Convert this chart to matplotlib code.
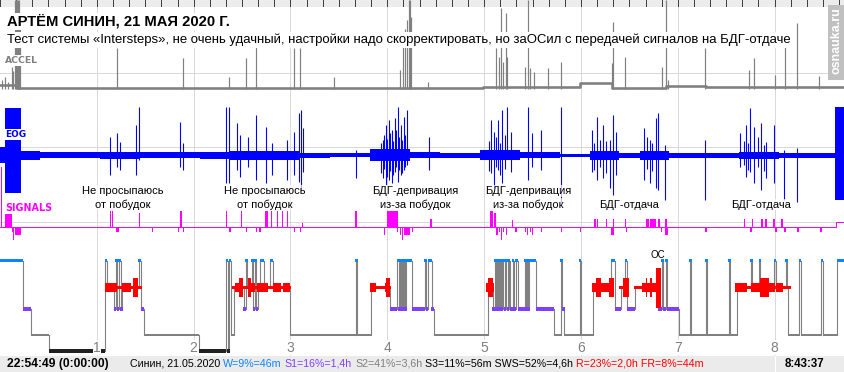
import matplotlib
matplotlib.use("Agg")
import matplotlib.pyplot as plt
from matplotlib.patches import Rectangle

# ---------------- texts ----------------
TITLE = "АРТЁМ СИНИН, 21 МАЯ 2020 Г."
SUBTITLE = ("Тест системы «Intersteps», не очень удачный, настройки надо скорректировать, "
            "но заОСил с передачей сигналов на БДГ-отдаче")
START_LABEL = "22:54:49 (0:00:00)"
END_LABEL = "8:43:37"
SITE = "osnauka.ru"
DURATION_H = 8 + 43 / 60 + 37 / 3600
hour_ticks = [1, 2, 3, 4, 5, 6, 7, 8]
channel_labels = ["ACCEL", "EOG", "SIGNALS"]

stats_text = ["Синин, 21.05.2020", "W=9%=46m", "S1=16%=1,4h", "S2=41%=3,6h",
              "S3=11%=56m SWS=52%=4,6h", "R=23%=2,0h FR=8%=44m"]
stats_colors = ["#000000", "#0a84ff", "#7f3fff", "#808080", "#000000", "#ff0000"]

note_line1 = ["Не просыпаюсь", "Не просыпаюсь", "БДГ-депривация", "БДГ-депривация", "", ""]
note_line2 = ["от побудок", "от побудок", "из-за побудок", "из-за побудок", "БДГ-отдача", "БДГ-отдача"]
note_t = [1.270, 2.737, 4.290, 5.460, 6.495, 7.860]
oc_label = "ОС"
oc_t = 6.795

# ---------------- hypnogram (epoch start in hours, stage) ----------------
hyp_t = [0.000, 0.240, 0.323, 0.503, 1.087, 1.101, 1.180, 1.197, 1.211, 1.228,
         1.246, 1.259, 1.433, 1.452, 1.489, 2.057, 2.335, 2.350, 2.368, 2.384,
         2.418, 2.518, 2.536, 2.556, 2.601, 2.614, 2.632, 2.649, 2.663, 2.683,
         2.728, 2.792, 2.823, 2.993, 3.674, 3.684, 3.836, 4.028, 4.104, 4.118,
         4.128, 4.141, 4.152, 4.163, 4.172, 4.183, 4.193, 4.257, 4.389, 4.399,
         4.424, 4.459, 4.479, 5.036, 5.091, 5.108, 5.118, 5.128, 5.139, 5.149,
         5.160, 5.170, 5.180, 5.191, 5.211, 5.222, 5.242, 5.252, 5.263, 5.294,
         5.305, 5.325, 5.346, 5.418, 5.435, 5.446, 5.456, 5.466, 5.539, 5.720,
         5.795, 5.805, 5.830, 5.986, 5.996, 6.123, 6.310, 6.350, 6.412, 6.460,
         6.471, 6.556, 6.800, 6.835, 6.845, 6.876, 6.892, 7.010, 7.124, 7.134,
         7.289, 7.299, 7.526, 7.537, 7.609, 7.753, 7.764, 7.843, 7.853, 7.998,
         8.011, 8.115, 8.125, 8.142, 8.256, 8.272, 8.483, 8.499, 8.641]
hyp_s = ["W", "S1", "S2", "S3", "W", "R", "S1", "W", "S1", "W",
         "S1", "R", "W", "S1", "S2", "S3", "W", "S3", "W", "S2",
         "R", "S1", "W", "R", "W", "S1", "W", "S1", "R", "W",
         "R", "W", "R", "S2", "W", "S2", "R", "S1", "W", "S1",
         "W", "S1", "W", "S1", "W", "S1", "W", "S1", "W", "S1",
         "W", "S1", "S2", "R", "S1", "W", "S1", "W", "S1", "W",
         "S1", "W", "S1", "W", "S1", "W", "S1", "W", "S1", "W",
         "S1", "W", "S1", "W", "S1", "W", "S1", "W", "S1", "S2",
         "W", "S1", "S2", "W", "S2", "R", "W", "S1", "R", "W",
         "S1", "R", "S1", "W", "S1", "W", "S1", "S2", "W", "S2",
         "W", "S2", "W", "S2", "R", "W", "R", "W", "R", "W",
         "R", "W", "R", "S2", "W", "S2", "W", "S2", "W"]

# REM intensity blocks (start h, end h, level 1..4)
rem_t0 = [1.087, 1.204, 1.256, 1.352, 1.376, 1.421,
          2.401, 2.425, 2.466, 2.511, 2.562, 2.590, 2.632, 2.655, 2.763, 2.820, 2.900, 2.924, 2.993,
          3.818, 3.888, 3.973, 3.991, 4.025,
          5.015, 5.043, 5.091,
          6.109, 6.158, 6.202, 6.288, 6.398, 6.432,
          6.543, 6.629, 6.667, 6.684, 6.708, 6.736, 6.770,
          7.596, 7.712, 7.757, 7.850, 7.946, 8.001, 8.016, 8.091]
rem_t1 = [1.204, 1.256, 1.352, 1.376, 1.421, 1.465,
          2.425, 2.466, 2.511, 2.562, 2.590, 2.632, 2.655, 2.763, 2.820, 2.900, 2.924, 2.993, 3.010,
          3.888, 3.973, 3.991, 4.025, 4.042,
          5.043, 5.091, 5.105,
          6.158, 6.202, 6.288, 6.340, 6.432, 6.491,
          6.629, 6.667, 6.684, 6.708, 6.736, 6.770, 6.825,
          7.712, 7.757, 7.850, 7.946, 8.001, 8.016, 8.091, 8.166]
rem_lvl = [2, 1, 2, 1, 3, 1,
           1, 2, 3, 1, 3, 2, 1, 2, 1, 2, 1, 2, 1,
           2, 1, 2, 3, 1,
           2, 3, 2,
           2, 3, 2, 3, 1, 3,
           1, 2, 3, 2, 3, 2, 4,
           2, 1, 2, 3, 2, 1, 2, 1]

# ---------------- ACCEL ----------------
accel_base_t = [0.000, 0.175, 4.985, 5.986, 6.316, 6.883, 7.296]
accel_base_v = [4.0, 0.7, 2.3, 6.3, 0.7, 3.0, 1.7]
accel_spk_t = [0.021, 0.052, 0.083, 0.124, 0.139, 0.157, 0.167, 0.178, 0.188, 0.198,
               0.208, 1.207, 1.889, 2.363, 2.539, 2.642, 3.034, 3.096, 3.447, 4.128,
               4.159, 4.180, 4.200, 4.221, 4.231, 4.247, 4.417, 5.126, 5.150, 5.170,
               5.191, 5.222, 5.237, 5.418, 5.449, 5.470, 5.511, 5.655, 5.789, 6.316,
               6.331, 6.460, 6.832, 6.883, 6.901, 7.286, 7.740, 7.791, 8.008, 8.111,
               8.235, 8.462]
accel_spk_v = [9, 12, 7, 22, 18, 89, 89, 89, 89, 89,
               60, 41, 31, 12, 31, 54, 41, 41, 12, 19,
               56, 60, 69, 89, 89, 72, 7, 41, 32, 81,
               27, 76, 32, 22, 89, 21, 17, 21, 27, 26,
               67, 32, 22, 89, 9, 41, 19, 31, 14, 56,
               66, 13]

# ---------------- EOG ----------------
eog_bin_t = [0.000, 0.052, 0.217, 0.413, 1.032, 1.445, 2.064, 2.374, 3.096, 3.406, 3.818,
             4.231, 4.541, 4.954, 5.366, 5.779, 6.089, 6.398, 6.605, 6.914, 7.637, 8.050]
eog_bin_amp = [8, 8, 4.5, 3, 3.5, 3, 3.5, 4.5, 2.5, 2, 6,
               3, 2.5, 5, 3, 1.5, 4.5, 2.5, 4.5, 2.5, 3.5, 2.5]
eog_end_t = 8.627
eog_spk_t = [1.135, 1.207, 1.238, 1.404, 1.434, 1.858, 1.889, 2.332, 2.363, 2.446,
             2.477, 2.559, 2.642, 2.745, 2.807, 2.962, 3.034, 3.086, 3.106, 3.127,
             3.674, 3.953, 3.983, 4.014, 4.045, 4.076, 4.107, 4.138, 4.169, 4.200,
             4.427, 5.067, 5.098, 5.139, 5.181, 5.232, 5.273, 5.449, 5.490, 5.583,
             5.789, 6.109, 6.161, 6.223, 6.295, 6.326, 6.357, 6.656, 6.708, 6.770,
             6.791, 6.873, 7.286, 7.647, 7.709, 7.750, 7.791, 7.864, 7.915, 7.998,
             8.101, 8.235, 3.932, 3.968, 3.999, 4.030, 4.060, 4.092, 4.122, 4.153,
             4.185, 5.046, 5.118, 5.160, 5.212, 6.130, 6.192, 6.254, 6.680, 6.730,
             7.680, 7.730, 7.830, 7.890]
eog_spk_up = [18, 22, 13, 30, 48, 33, 12, 48, 48, 32,
              20, 18, 40, 28, 12, 15, 23, 42, 45, 27,
              5, 15, 30, 35, 25, 37, 48, 30, 38, 45,
              18, 35, 23, 35, 45, 48, 23, 48, 22, 25,
              48, 25, 38, 30, 15, 40, 23, 27, 15, 37,
              42, 10, 15, 22, 30, 47, 28, 32, 13, 30,
              5, 7, 12, 20, 16, 22, 14, 25, 18, 15,
              20, 14, 18, 12, 20, 12, 15, 14, 18, 12,
              14, 12, 18, 10]
eog_spk_dn = [20, 12, 15, 20, 5, 12, 15, 28, 28, 15,
              22, 12, 25, 28, 20, 25, 20, 27, 35, 17,
              23, 23, 30, 25, 28, 17, 27, 20, 15, 10,
              15, 18, 33, 15, 28, 2, 17, 25, 12, 15,
              47, 17, 25, 23, 33, 40, 20, 25, 28, 33,
              35, 45, 45, 12, 22, 17, 28, 35, 23, 28,
              45, 47, 18, 14, 22, 16, 20, 12, 15, 18,
              12, 16, 12, 20, 14, 15, 12, 18, 14, 16,
              10, 15, 12, 16]
eog_blk_t0 = [0.052, 8.627]
eog_blk_t1 = [0.217, DURATION_H]
eog_blk_up = [47, 48]
eog_blk_dn = [38, 45]

# ---------------- SIGNALS ----------------
sig_t = [0.010, 0.052, 0.124, 0.134, 0.155, 1.135, 1.153, 1.202, 1.431, 1.569,
         1.834, 1.858, 1.889, 2.332, 2.370, 2.487, 2.536, 2.642, 2.680, 2.735,
         2.797, 2.859, 2.910, 2.962, 3.034, 3.096, 3.114, 3.671, 3.963, 3.994,
         4.097, 4.128, 4.149, 4.169, 4.252, 4.438, 5.057, 5.098, 5.126, 5.150,
         5.170, 5.191, 5.222, 5.284, 5.322, 5.418, 5.439, 5.470, 5.490, 5.583,
         5.789, 5.986, 6.130, 6.161, 6.254, 6.309, 6.326, 6.450, 6.467, 6.667,
         6.718, 6.749, 6.791, 6.825, 6.863, 6.873, 7.286, 7.685, 7.750, 7.768,
         7.864, 7.905, 7.988, 8.008, 8.070, 8.101, 8.235, 8.473]
sig_w = [0.010, 0.072, 0.021, 0.008, 0.062, 0.010, 0.010, 0.031, 0.010, 0.010,
         0.010, 0.021, 0.010, 0.010, 0.010, 0.010, 0.010, 0.010, 0.010, 0.031,
         0.010, 0.010, 0.010, 0.010, 0.010, 0.010, 0.010, 0.010, 0.010, 0.114,
         0.010, 0.010, 0.010, 0.062, 0.010, 0.021, 0.031, 0.026, 0.010, 0.010,
         0.010, 0.010, 0.010, 0.010, 0.010, 0.010, 0.010, 0.010, 0.010, 0.010,
         0.010, 0.010, 0.021, 0.015, 0.010, 0.028, 0.010, 0.010, 0.010, 0.031,
         0.021, 0.031, 0.021, 0.010, 0.031, 0.010, 0.010, 0.010, 0.010, 0.010,
         0.010, 0.010, 0.010, 0.010, 0.010, 0.010, 0.010, 0.010]
sig_v = [60, 14, -5, -13, -8, 16, 16, -5, 14, -5,
         -5, 16, -5, 16, -5, 16, -5, -5, -5, 16,
         16, 16, 16, 16, -5, -5, 4, 16, -8, 16,
         -5, -8, -13, -8, -5, 8, 16, 14, -8, -5,
         -13, -5, -8, 7, -5, -5, -8, -5, -8, -5,
         -5, -5, 8, 8, 8, -8, 8, 8, -5, 8,
         8, 8, 8, -5, -8, 8, -5, 8, -5, 8,
         8, 8, 8, -5, 8, -5, -5, -5]
sig_step_t = 8.633
sig_step_v = 5

# ---------------- layout / style ----------------
W_PX, H_PX = 845, 372
PXH = W_PX / DURATION_H
PX = 1.0 / PXH
SANS = "Liberation Sans"
LBL = "DejaVu Sans"
GRID = "#d9d9d9"
ACC_C, EOG_C, SIG_C = "#808080", "#0000ff", "#ff00ff"
LEVEL_Y = {"W": 260.7, "R": 287.7, "S1": 308.7, "S2": 334.7, "S3": 351.0}
ST_C = {"W": "#0a84ff", "R": "#ff0000", "S1": "#7f3fff", "S2": "#808080", "S3": "#202020"}
ST_H = {"W": 3.0, "R": 3.0, "S1": 3.6, "S2": 2.0, "S3": 3.4}
REM_H = {1: 3, 2: 9, 3: 19, 4: 40}
ACC_Y0, EOG_Y0, SIG_Y0 = 89.0, 155.0, 227.3
LW1 = 72.0 / 100  # one pixel in points

fig = plt.figure(figsize=(W_PX / 100, H_PX / 100), dpi=100)
ax = fig.add_axes([0, 0, 1, 1])
ax.set_xlim(0, DURATION_H)
ax.set_ylim(H_PX, 0)
ax.axis("off")
axp = fig.add_axes([0, 0, 1, 1], zorder=5)
axp.set_xlim(0, W_PX)
axp.set_ylim(H_PX, 0)
axp.axis("off")
axp.patch.set_alpha(0)
R = fig.canvas.get_renderer()


def twidth(s, size, weight="normal", family=SANS):
    t = axp.text(0, 0, s, fontsize=size, fontweight=weight, family=family)
    w = t.get_window_extent(renderer=R).width
    t.remove()
    return w


def fit(s, target, weight="normal", family=SANS):
    return 10.0 * target / twidth(s, 10.0, weight, family)


# grid
for k in hour_ticks:
    ax.plot([k, k], [7, 356], color=GRID, lw=LW1, zorder=0)
for y in (73.3, 147.3, 221.7):
    ax.plot([0, DURATION_H], [y, y], color=GRID, lw=LW1, zorder=0)

# top strip with 10-minute ticks
ax.add_patch(Rectangle((0, 0), DURATION_H, 7, color="#ececec", lw=0, zorder=1))
k = 0
while k / 6 <= DURATION_H:
    ax.plot([k / 6, k / 6], [0, 6], color="#404040", lw=LW1, zorder=2)
    k += 1

# ACCEL
xs = accel_base_t + [DURATION_H]
ys = [ACC_Y0 - v for v in accel_base_v] + [ACC_Y0 - accel_base_v[-1]]
ax.step(xs, ys, where="post", color=ACC_C, lw=2.6 * LW1, zorder=2)
ax.vlines(accel_spk_t, ACC_Y0, [ACC_Y0 - v for v in accel_spk_v], color=ACC_C, lw=1.2 * LW1, zorder=2)

# EOG
xs = eog_bin_t + [eog_end_t]
amps = eog_bin_amp + [eog_bin_amp[-1]]
ax.fill_between(xs, [EOG_Y0 - a for a in amps], [EOG_Y0 + a for a in amps],
                step="post", color=EOG_C, lw=0, zorder=2)
ax.vlines(eog_spk_t, [EOG_Y0 - u for u in eog_spk_up], [EOG_Y0 + d for d in eog_spk_dn],
          color=EOG_C, lw=1.1 * LW1, zorder=2)
for t0, t1, u, d in zip(eog_blk_t0, eog_blk_t1, eog_blk_up, eog_blk_dn):
    ax.add_patch(Rectangle((t0, EOG_Y0 - u), t1 - t0, u + d, color=EOG_C, lw=0, zorder=2))

# SIGNALS
ax.plot([0, sig_step_t, sig_step_t, DURATION_H],
        [SIG_Y0, SIG_Y0, SIG_Y0 - sig_step_v, SIG_Y0 - sig_step_v], color=SIG_C, lw=LW1, zorder=2)
for t, w, v in zip(sig_t, sig_w, sig_v):
    w = max(w, 1.2 * PX)
    y0 = SIG_Y0 - v if v > 0 else SIG_Y0
    ax.add_patch(Rectangle((t, y0), w, abs(v), color=SIG_C, lw=0, zorder=2))

# hypnogram
ends = hyp_t[1:] + [DURATION_H]
MINW = 2.6 * PX
for t0, t1, s in zip(hyp_t, ends, hyp_s):
    w = t1 - t0
    if w < MINW:
        c = 0.5 * (t0 + t1)
        t0, w = c - MINW / 2, MINW
    h = ST_H[s]
    ax.add_patch(Rectangle((t0, LEVEL_Y[s] - h / 2), w, h, color=ST_C[s], lw=0, zorder=3))
for i in range(1, len(hyp_t)):
    ax.plot([hyp_t[i]] * 2, [LEVEL_Y[hyp_s[i - 1]], LEVEL_Y[hyp_s[i]]],
            color="#808080", lw=1.1 * LW1, zorder=2)
for t0, t1, lv in zip(rem_t0, rem_t1, rem_lvl):
    h = REM_H[lv]
    ax.add_patch(Rectangle((t0, LEVEL_Y["R"] - h / 2), t1 - t0, h, color=ST_C["R"], lw=0, zorder=4))

# bottom bar
axp.add_patch(Rectangle((0, 356), W_PX, 16, color="#ebebeb", lw=0, zorder=1))
axp.plot([775, 775], [356, 372], color="white", lw=LW1, zorder=2)

# ---------------- texts ----------------
white = dict(facecolor="white", edgecolor="none", pad=1.0)
axp.text(7, 26, TITLE, fontsize=fit(TITLE, 221, "bold"), fontweight="bold", family=SANS,
         va="baseline", ha="left", bbox=white, zorder=6)
axp.text(7, 43.3, SUBTITLE, fontsize=fit(SUBTITLE, 791), family=SANS,
         va="baseline", ha="left", bbox=white, zorder=6)

# site badge
axp.add_patch(Rectangle((828.3, 5), 16.7, 75, color="#c0c0c0", lw=0, zorder=6))
axp.text(837, 41, SITE, rotation=90, color="white", fontweight="bold", family=SANS,
         fontsize=fit(SITE, 66, "bold"), ha="center", va="center", zorder=7)

# channel labels
lab_pos = [(5, 63, ACC_C, 33), (5, 137, EOG_C, 21), (5, 211, SIG_C, 47)]
for name, (x, y, c, wt) in zip(channel_labels, lab_pos):
    axp.text(x, y, name, color=c, fontweight="bold", family=LBL, fontsize=fit(name, wt, "bold", LBL),
             va="baseline", ha="left", zorder=6,
             bbox=dict(facecolor="white", edgecolor="none", pad=0.5))

# notes
nsize = fit("Не просыпаюсь", 82)
nbox = dict(facecolor="white", edgecolor="none", alpha=0.7, pad=0.5)
for l1, l2, t in zip(note_line1, note_line2, note_t):
    x = t * PXH
    if l1:
        axp.text(x, 194, l1, fontsize=nsize, family=SANS, ha="center", va="baseline", bbox=nbox, zorder=6)
    axp.text(x, 207.5, l2, fontsize=nsize, family=SANS, ha="center", va="baseline", bbox=nbox, zorder=6)

axp.text(oc_t * PXH, 257.7, oc_label, fontsize=fit(oc_label, 14.6), family=SANS,
         ha="center", va="baseline", zorder=6)

# hour labels
for k in hour_ticks:
    axp.text(k * PXH, 351.7, str(k), fontsize=10, family=SANS, color="#808080",
             ha="center", va="baseline", zorder=6,
             bbox=dict(facecolor="white", edgecolor="none", pad=0.3))

# bottom texts
axp.text(7, 366.7, START_LABEL, fontsize=fit(START_LABEL, 102, "bold"), fontweight="bold",
         family=SANS, va="baseline", ha="left", zorder=6)
axp.text(785, 366.7, END_LABEL, fontsize=fit(END_LABEL, 40, "bold"), fontweight="bold",
         family=SANS, va="baseline", ha="left", zorder=6)

sp10 = twidth("x x", 10) - twidth("xx", 10)
tot10 = sum(twidth(s, 10) for s in stats_text) + sp10 * (len(stats_text) - 1)
ssize = 10 * 572 / tot10
sp = twidth("x x", ssize) - twidth("xx", ssize)
x = 130
for s, c in zip(stats_text, stats_colors):
    axp.text(x, 366.7, s, fontsize=ssize, family=SANS, color=c, va="baseline", ha="left", zorder=6)
    x += twidth(s, ssize) + sp

fig.savefig("out.png", dpi=100)
